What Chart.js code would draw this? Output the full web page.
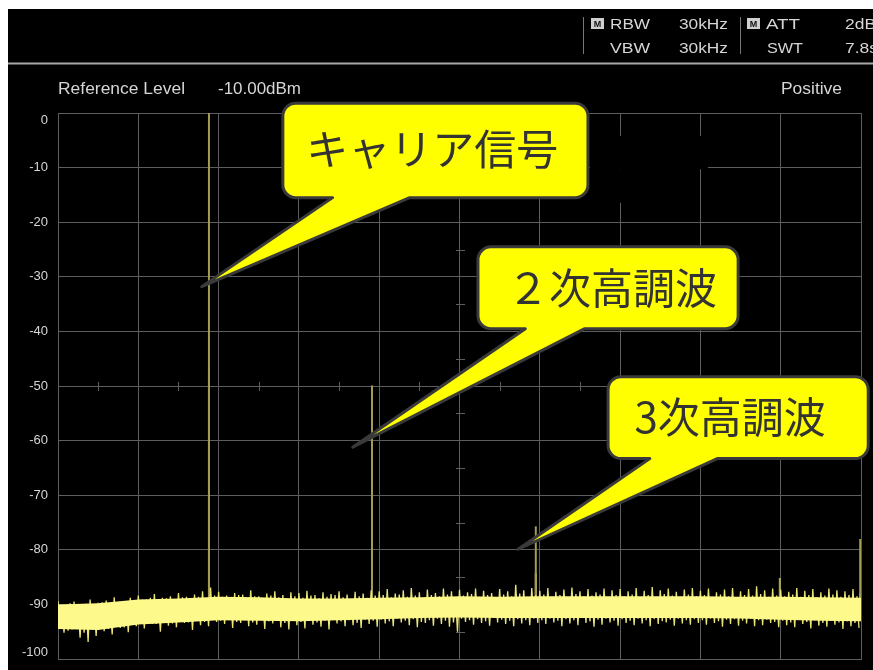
<!DOCTYPE html>
<html>
<head>
<meta charset="utf-8">
<script src="https://cdn.jsdelivr.net/npm/chart.js@4.4.1/dist/chart.umd.min.js"></script>
<style>
html, body { margin: 0; padding: 0; background: #fff; }
canvas { display: block; }
</style>
</head>
<body>
<canvas id="spectrum" width="873" height="670"></canvas>
<script>
// level axis (dB), 10 divisions
const levelTicks = [0, -10, -20, -30, -40, -50, -60, -70, -80, -90, -100];

// solid core of the noise floor, read every 50 freq units (0..1000 = full span)
const bandFreq = [0, 50, 100, 150, 200, 250, 300, 350, 400, 450, 500, 550, 600, 650, 700, 750, 800, 850, 900, 950, 1000];
const bandHigh = [-90.0, -89.8, -89.1, -88.9, -88.6, -88.7, -88.9, -88.9, -88.8, -88.7, -88.5, -88.6, -88.5, -88.5, -88.5, -88.5, -88.5, -88.6, -88.6, -88.7, -88.8];
const bandLow = [-94.5, -94.7, -93.7, -93.3, -92.9, -93.0, -93.1, -92.9, -92.7, -92.5, -92.4, -92.5, -92.5, -92.5, -92.5, -92.5, -92.5, -92.6, -92.8, -93.0, -93.1];

// noise grass, outer tips: one high and one low every 10 freq units
const grassTop = [
  -89.4, -90.2, -89.5, -90.0, -89.1, -89.7, -89.3, -88.7, -89.4, -88.8,
  -88.4, -89.1, -88.1, -88.8, -88.5, -87.9, -88.6, -88.2, -87.6, -86.9,
  -87.7, -88.4, -87.9, -88.2, -87.4, -88.5, -88.0, -87.6, -88.3, -87.8,
  -87.9, -87.5, -88.3, -87.8, -88.1, -87.6, -88.2, -87.7, -88.0, -87.4,
  -87.6, -87.2, -88.0, -87.4, -87.0, -87.8, -87.3, -87.9, -87.1, -87.6,
  -87.3, -87.8, -87.1, -87.5, -87.9, -87.2, -87.6, -86.4, -87.4, -87.0,
  -87.5, -87.0, -87.7, -87.3, -86.9, -87.6, -87.2, -87.8, -87.1, -87.4,
  -87.2, -87.6, -87.0, -87.5, -86.8, -87.4, -87.1, -87.7, -87.3, -87.0,
  -87.5, -87.1, -87.8, -87.3, -87.0, -87.6, -87.2, -86.7, -87.4, -87.1,
  -87.3, -87.7, -87.0, -87.5, -87.2, -87.8, -87.1, -87.4, -87.6, -87.2
];
const grassBottom = [
  -95.2, -94.6, -96.1, -96.9, -95.8, -94.9, -95.5, -94.3, -95.1, -94.0,
  -94.4, -93.6, -95.0, -93.9, -94.2, -93.4, -94.7, -93.8, -94.0, -93.2,
  -93.6, -94.3, -93.4, -94.0, -93.7, -94.5, -93.5, -94.2, -94.6, -93.8,
  -94.4, -93.7, -94.1, -94.6, -93.5, -94.0, -93.8, -94.3, -93.6, -94.1,
  -93.5, -94.0, -93.3, -93.8, -94.2, -93.4, -93.9, -93.6, -94.1, -95.0,
  -93.2, -93.7, -93.4, -93.9, -93.3, -93.6, -94.0, -93.5, -93.8, -93.4,
  -93.6, -93.3, -94.0, -93.5, -93.8, -93.4, -94.1, -93.7, -93.3, -93.9,
  -93.4, -93.8, -93.5, -94.0, -93.6, -93.3, -93.9, -93.5, -93.7, -93.4,
  -93.7, -93.4, -94.1, -93.6, -93.9, -93.5, -94.0, -93.8, -93.4, -94.2,
  -93.8, -94.2, -93.6, -94.4, -93.9, -94.1, -93.7, -94.5, -94.0, -94.3
];
// noise grass, inner tips (shorter spikes in between)
const grassTopInner = [
  -90.2, -89.8, -90.4, -89.9, -90.1, -89.6, -90.3, -89.7, -89.5, -89.9,
  -89.1, -88.8, -89.4, -88.9, -89.2, -88.7, -89.0, -88.6, -88.9, -88.4,
  -88.6, -88.9, -88.3, -88.8, -88.5, -89.0, -88.4, -88.7, -88.9, -88.5,
  -88.8, -88.4, -88.9, -88.6, -88.3, -88.7, -89.0, -88.5, -88.8, -88.4,
  -88.3, -88.7, -88.2, -88.6, -88.4, -88.9, -88.3, -88.5, -88.2, -88.7,
  -88.4, -88.1, -88.6, -88.3, -88.7, -88.2, -88.5, -88.0, -88.6, -88.3,
  -88.2, -88.6, -88.3, -88.7, -88.1, -88.5, -88.4, -88.2, -88.6, -88.3,
  -88.5, -88.2, -88.7, -88.3, -88.6, -88.1, -88.4, -88.6, -88.2, -88.5,
  -88.3, -88.6, -88.2, -88.5, -88.7, -88.3, -88.4, -88.1, -88.6, -88.4,
  -88.5, -88.2, -88.6, -88.3, -88.7, -88.4, -88.2, -88.6, -88.3, -88.5
];
const grassBottomInner = [
  -94.3, -94.8, -94.1, -95.2, -94.6, -94.0, -94.5, -93.9, -94.2, -93.7,
  -93.4, -93.1, -93.6, -93.2, -93.5, -92.9, -93.3, -93.0, -93.2, -92.8,
  -93.0, -92.7, -93.2, -92.9, -93.3, -92.8, -93.1, -92.7, -93.4, -93.0,
  -93.2, -92.8, -93.3, -93.0, -92.7, -93.1, -92.9, -93.4, -92.8, -93.0,
  -92.8, -93.1, -92.6, -93.0, -92.7, -93.2, -92.9, -92.6, -93.0, -93.3,
  -92.6, -92.9, -92.7, -93.1, -92.5, -92.8, -93.0, -92.7, -92.9, -92.6,
  -92.9, -92.6, -93.0, -92.7, -92.9, -92.5, -93.1, -92.8, -92.6, -93.0,
  -92.7, -93.0, -92.6, -92.9, -92.7, -93.1, -92.8, -92.6, -92.9, -92.7,
  -92.9, -92.6, -93.1, -92.8, -92.7, -93.0, -92.6, -92.9, -92.8, -93.2,
  -93.0, -93.3, -92.8, -93.2, -92.9, -93.4, -93.0, -93.3, -93.1, -93.4
];

// carrier, 2nd and 3rd harmonic, small spur, edge spur
const peakFreq = [188, 391, 595, 899, 999];
const peakLevel = [0, -49.9, -75.7, -85.2, -78.0];
const peakBrightFrom = [-46.8, -72.0, -84.3, -85.2, -88.0];
const peakBase = [-89.0, -90.0, -90.0, -89.0, -90.0];

// callout annotations (data units)
const callouts = [
  { text: 'キャリア信号', box: [280, 660, 1.8, -15.5], base: [342, 438], tip: [179, -31.8], textAt: [466, -6.6] },
  { text: '２次高調波', box: [523, 847, -24.5, -39.5], base: [582, 656], tip: [367, -61.2], textAt: [690, -32.0] },
  { text: '3次高調波', box: [685, 1009, -48.3, -63.3], base: [737, 821], tip: [573, -79.9], textAt: [837, -55.6] }
];

const GRID = '#5e5e5e';
const TEXT = '#d6d6d6';

function fitText(ctx, text, x, y, width) {
  const w = ctx.measureText(text).width;
  ctx.save();
  ctx.translate(x, y);
  ctx.scale(width / w, 1);
  ctx.fillText(text, 0, 0);
  ctx.restore();
}

function drawIcon(ctx, x, y) {
  ctx.fillStyle = '#cfcfcf';
  ctx.fillRect(x, y, 13, 11);
  ctx.fillStyle = '#111';
  ctx.font = 'bold 9px "Liberation Sans"';
  ctx.textAlign = 'center';
  ctx.fillText('M', x + 6.5, y + 9);
  ctx.textAlign = 'left';
}

const screenPlugin = {
  id: 'screen',
  beforeDraw(chart) {
    const ctx = chart.ctx;
    ctx.save();
    ctx.fillStyle = '#fff';
    ctx.fillRect(0, 0, chart.width, chart.height);
    ctx.fillStyle = '#000';
    ctx.fillRect(8, 9, chart.width - 8, chart.height - 9);

    // header
    ctx.fillStyle = TEXT;
    ctx.textBaseline = 'alphabetic';
    ctx.font = '15px "Liberation Sans", Arial, sans-serif';
    fitText(ctx, 'RBW', 610, 29, 40);
    fitText(ctx, '30kHz', 679, 29, 49);
    fitText(ctx, 'ATT', 766, 29, 34);
    fitText(ctx, '2dB', 845, 29, 31);
    fitText(ctx, 'VBW', 610, 53, 40);
    fitText(ctx, '30kHz', 679, 53, 49);
    fitText(ctx, 'SWT', 767, 53, 36);
    fitText(ctx, '7.8s', 845, 53, 33);
    drawIcon(ctx, 591, 18);
    drawIcon(ctx, 747, 18);

    ctx.strokeStyle = '#777';
    ctx.lineWidth = 1;
    ctx.beginPath();
    ctx.moveTo(583.5, 17); ctx.lineTo(583.5, 54);
    ctx.moveTo(740.5, 17); ctx.lineTo(740.5, 54);
    ctx.stroke();

    ctx.strokeStyle = '#a8a8a8';
    ctx.lineWidth = 2;
    ctx.beginPath();
    ctx.moveTo(8, 63.5); ctx.lineTo(chart.width, 63.5);
    ctx.stroke();

    ctx.fillStyle = TEXT;
    ctx.font = '16px "Liberation Sans", Arial, sans-serif';
    fitText(ctx, 'Reference Level', 58, 94, 127);
    fitText(ctx, '-10.00dBm', 218, 94, 83);
    fitText(ctx, 'Positive', 781, 94, 61);
    ctx.restore();
  },
  beforeDatasetsDraw(chart) {
    const ctx = chart.ctx;
    const xs = chart.scales.x, ys = chart.scales.y;
    ctx.save();
    // centre cross ticks
    ctx.strokeStyle = GRID;
    ctx.lineWidth = 1;
    ctx.beginPath();
    const cx = Math.round(xs.getPixelForValue(500)) + 0.5;
    const cy = Math.round(ys.getPixelForValue(-50)) + 0.5;
    for (let i = 0; i < levelTicks.length - 1; i++) {
      const py = Math.round(ys.getPixelForValue(levelTicks[i] - 5)) + 0.5;
      ctx.moveTo(cx - 4.5, py); ctx.lineTo(cx + 4.5, py);
    }
    for (let f = 50; f < 1000; f += 100) {
      const px = Math.round(xs.getPixelForValue(f)) + 0.5;
      ctx.moveTo(px, cy - 4.5); ctx.lineTo(px, cy + 4.5);
    }
    ctx.stroke();

    // blanked patch on the screen
    ctx.fillStyle = '#000';
    const mx0 = xs.getPixelForValue(662.5);
    ctx.fillRect(mx0, ys.getPixelForValue(-4.2), xs.getPixelForValue(809.5) - mx0, ys.getPixelForValue(-10.3) - ys.getPixelForValue(-4.2));
    ctx.fillRect(mx0, ys.getPixelForValue(-10.3), xs.getPixelForValue(797) - mx0, ys.getPixelForValue(-16.45) - ys.getPixelForValue(-10.3));
    ctx.restore();
  },
  afterDraw(chart) {
    const ctx = chart.ctx;
    const xs = chart.scales.x, ys = chart.scales.y;
    const area = chart.chartArea;
    ctx.save();
    // level labels
    ctx.fillStyle = TEXT;
    ctx.font = '13px "Liberation Sans", Arial, sans-serif';
    ctx.textAlign = 'right';
    ctx.textBaseline = 'middle';
    levelTicks.forEach(v => {
      let py = ys.getPixelForValue(v);
      py = Math.min(Math.max(py, area.top + 7), area.bottom - 7);
      ctx.fillText(String(v), 48, py);
    });

    // callouts
    callouts.forEach(c => {
      const x0 = xs.getPixelForValue(c.box[0]);
      const x1 = xs.getPixelForValue(c.box[1]);
      const y0 = ys.getPixelForValue(c.box[2]);
      const y1 = ys.getPixelForValue(c.box[3]);
      const b0 = xs.getPixelForValue(c.base[0]);
      const b1 = xs.getPixelForValue(c.base[1]);
      const tx = xs.getPixelForValue(c.tip[0]);
      const ty = ys.getPixelForValue(c.tip[1]);
      const r = 13;
      ctx.beginPath();
      ctx.moveTo(x0 + r, y0);
      ctx.lineTo(x1 - r, y0);
      ctx.arcTo(x1, y0, x1, y0 + r, r);
      ctx.lineTo(x1, y1 - r);
      ctx.arcTo(x1, y1, x1 - r, y1, r);
      ctx.lineTo(b1, y1);
      ctx.lineTo(tx, ty);
      ctx.lineTo(b0, y1);
      ctx.lineTo(x0 + r, y1);
      ctx.arcTo(x0, y1, x0, y1 - r, r);
      ctx.lineTo(x0, y0 + r);
      ctx.arcTo(x0, y0, x0 + r, y0, r);
      ctx.closePath();
      ctx.fillStyle = '#ffff00';
      ctx.fill();
      ctx.lineJoin = 'round';
      ctx.lineWidth = 3;
      ctx.strokeStyle = '#3a3a3a';
      ctx.stroke();

      ctx.fillStyle = '#333';
      ctx.font = '42px "Noto Sans CJK JP", sans-serif';
      ctx.textAlign = 'center';
      ctx.textBaseline = 'middle';
      ctx.fillText(c.text, xs.getPixelForValue(c.textAt[0]), ys.getPixelForValue(c.textAt[1]));
    });
    ctx.restore();
  }
};

const bandHighPts = bandFreq.map((f, i) => ({ x: f, y: bandHigh[i] }));
const bandLowPts = bandFreq.map((f, i) => ({ x: f, y: bandLow[i] }));
// trace alternates: outer high, inner low, inner high, outer low
const grassPts = [];
grassTop.forEach((v, i) => {
  grassPts.push({ x: i * 10, y: v });
  grassPts.push({ x: i * 10 + 2.5, y: grassBottomInner[i] });
  grassPts.push({ x: i * 10 + 5, y: grassTopInner[i] });
  grassPts.push({ x: i * 10 + 7.5, y: grassBottom[i] });
});

const peakSets = [];
peakFreq.forEach((f, i) => {
  peakSets.push({
    data: [{ x: f, y: peakBase[i] }, { x: f, y: peakLevel[i] }],
    borderColor: '#a39c52', borderWidth: 2, fill: false
  });
  peakSets.push({
    data: [{ x: f, y: peakBase[i] }, { x: f, y: peakBrightFrom[i] }],
    borderColor: '#e6df7c', borderWidth: 2, fill: false
  });
});

new Chart(document.getElementById('spectrum'), {
  type: 'line',
  data: {
    datasets: [
      { data: bandHighPts, borderWidth: 0, borderColor: 'rgba(0,0,0,0)', backgroundColor: '#fdf98a', fill: '+1' },
      { data: bandLowPts, borderWidth: 0, borderColor: 'rgba(0,0,0,0)', fill: false },
      { data: grassPts, borderColor: '#ebe479', borderWidth: 1.3, fill: false },
      ...peakSets
    ]
  },
  options: {
    responsive: false,
    animation: false,
    devicePixelRatio: 1,
    layout: { padding: { left: 58, right: 12, top: 113, bottom: 11 } },
    elements: { point: { radius: 0 }, line: { tension: 0 } },
    plugins: { legend: { display: false }, tooltip: { enabled: false } },
    scales: {
      x: {
        type: 'linear', min: 0, max: 1000,
        ticks: { display: false, stepSize: 100 },
        grid: { color: GRID, drawTicks: false },
        border: { color: GRID }
      },
      y: {
        min: -100, max: 0,
        ticks: { display: false, stepSize: 10 },
        grid: { color: GRID, drawTicks: false },
        border: { color: GRID }
      }
    }
  },
  plugins: [screenPlugin]
});
</script>
</body>
</html>
